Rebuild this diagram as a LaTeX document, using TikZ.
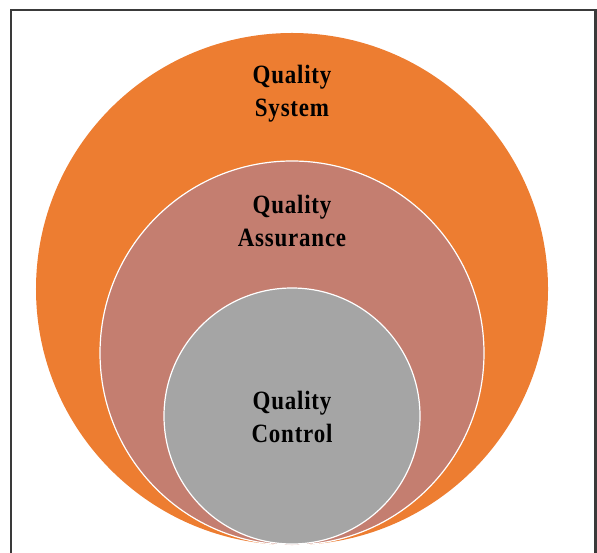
\documentclass[tikz,border=0pt]{standalone}
\usepackage{fontspec}
\setmainfont{Liberation Serif}
% slightly condensed, loosely spaced bold serif for the circle captions
\newfontfamily\capfont[FakeStretch=0.87, LetterSpace=3]{Liberation Serif}
\definecolor{sysorange}{HTML}{ED7D31}
\definecolor{assurerose}{HTML}{C47E70}
\definecolor{controlgray}{HTML}{A5A5A5}
\definecolor{framegray}{HTML}{3A3A3A}
\begin{document}
\begin{tikzpicture}[x=1bp,y=-1bp,
  ring/.style={circle, inner sep=0pt, draw=white, line width=1.2bp},
  caption/.style={align=center, text=black, font=\capfont\fontsize{26.5}{33}\selectfont\bfseries}]
  \useasboundingbox (0,0) rectangle (597,553);
  % open frame (top, left and right sides)
  \draw[framegray, line width=2.2bp] (11,553) -- (11,10) -- (595.5,10) -- (595.5,553);
  % nested circles, all touching at the bottom
  \node[ring, fill=sysorange, draw=none, minimum size=512bp] (system) at (292,289) {};
  \node[ring, fill=assurerose, minimum size=384bp] (assurance) at (292,353) {};
  \node[ring, fill=controlgray, minimum size=256bp] (control) at (292,416) {};
  % labels
  \node[caption] (systemtext) at (292,94) {Quality\\System};
  \node[caption] (assurancetext) at (292,221) {Quality\\Assurance};
  \node[caption] (controltext) at (292,417) {Quality\\Control};
\end{tikzpicture}
\end{document}
